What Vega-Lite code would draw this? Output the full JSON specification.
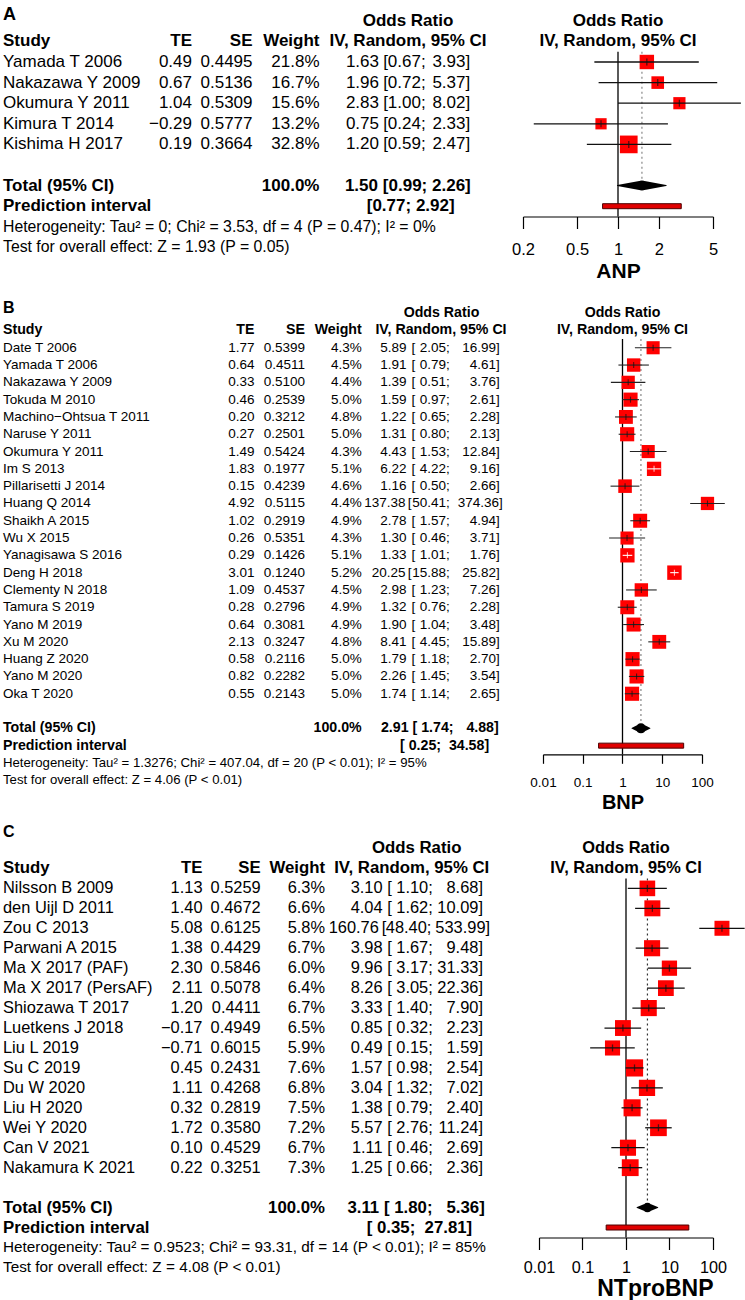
{
"$schema": "https://vega.github.io/schema/vega-lite/v6.json",
"padding": {"left": 0, "top": 5.5, "right": 0, "bottom": 0},
"background": "white",
"config": {
  "view": {"stroke": null},
  "text": {"font": "Liberation Sans", "color": "black"},
  "axis": {"grid": false, "labelFlush": false, "labelOverlap": false, "domainColor": "black", "tickColor": "black", "labelColor": "black", "titleColor": "black", "domainWidth": 1.2, "tickWidth": 1.2, "labelFont": "Liberation Sans", "titleFont": "Liberation Sans", "titleFontWeight": "bold"}
},
"datasets": {
  "A_s": [
    {"study": "Yamada T 2006", "te": 0.49, "se": 0.4495, "w": 0.218, "or": 1.63, "lo": 0.67, "hi": 3.93},
    {"study": "Nakazawa Y 2009", "te": 0.67, "se": 0.5136, "w": 0.167, "or": 1.96, "lo": 0.72, "hi": 5.37},
    {"study": "Okumura Y 2011", "te": 1.04, "se": 0.5309, "w": 0.156, "or": 2.83, "lo": 1.00, "hi": 8.02},
    {"study": "Kimura T 2014", "te": -0.29, "se": 0.5777, "w": 0.132, "or": 0.75, "lo": 0.24, "hi": 2.33},
    {"study": "Kishima H 2017", "te": 0.19, "se": 0.3664, "w": 0.328, "or": 1.20, "lo": 0.59, "hi": 2.47}
  ],
  "A_t": [{"label": "Total (95% CI)", "w": 1, "or": 1.50, "lo": 0.99, "hi": 2.26}],
  "A_p": [{"label": "Prediction interval", "lo": 0.77, "hi": 2.92}],
  "A_n": [
    {"key": "het", "text": "Heterogeneity: Tau² = 0; Chi² = 3.53, df = 4 (P = 0.47); I² = 0%"},
    {"key": "test", "text": "Test for overall effect: Z = 1.93 (P = 0.05)"}
  ],
  "B_s": [
    {"study": "Date T 2006", "te": 1.77, "se": 0.5399, "w": 0.043, "or": 5.89, "lo": 2.05, "hi": 16.99},
    {"study": "Yamada T 2006", "te": 0.64, "se": 0.4511, "w": 0.045, "or": 1.91, "lo": 0.79, "hi": 4.61},
    {"study": "Nakazawa Y 2009", "te": 0.33, "se": 0.5100, "w": 0.044, "or": 1.39, "lo": 0.51, "hi": 3.76},
    {"study": "Tokuda M 2010", "te": 0.46, "se": 0.2539, "w": 0.050, "or": 1.59, "lo": 0.97, "hi": 2.61},
    {"study": "Machino−Ohtsua T 2011", "te": 0.20, "se": 0.3212, "w": 0.048, "or": 1.22, "lo": 0.65, "hi": 2.28},
    {"study": "Naruse Y 2011", "te": 0.27, "se": 0.2501, "w": 0.050, "or": 1.31, "lo": 0.80, "hi": 2.13},
    {"study": "Okumura Y 2011", "te": 1.49, "se": 0.5424, "w": 0.043, "or": 4.43, "lo": 1.53, "hi": 12.84},
    {"study": "Im S 2013", "te": 1.83, "se": 0.1977, "w": 0.051, "or": 6.22, "lo": 4.22, "hi": 9.16},
    {"study": "Pillarisetti J 2014", "te": 0.15, "se": 0.4239, "w": 0.046, "or": 1.16, "lo": 0.50, "hi": 2.66},
    {"study": "Huang Q 2014", "te": 4.92, "se": 0.5115, "w": 0.044, "or": 137.38, "lo": 50.41, "hi": 374.36},
    {"study": "Shaikh A 2015", "te": 1.02, "se": 0.2919, "w": 0.049, "or": 2.78, "lo": 1.57, "hi": 4.94},
    {"study": "Wu X 2015", "te": 0.26, "se": 0.5351, "w": 0.043, "or": 1.30, "lo": 0.46, "hi": 3.71},
    {"study": "Yanagisawa S 2016", "te": 0.29, "se": 0.1426, "w": 0.051, "or": 1.33, "lo": 1.01, "hi": 1.76},
    {"study": "Deng H 2018", "te": 3.01, "se": 0.1240, "w": 0.052, "or": 20.25, "lo": 15.88, "hi": 25.82},
    {"study": "Clementy N 2018", "te": 1.09, "se": 0.4537, "w": 0.045, "or": 2.98, "lo": 1.23, "hi": 7.26},
    {"study": "Tamura S 2019", "te": 0.28, "se": 0.2796, "w": 0.049, "or": 1.32, "lo": 0.76, "hi": 2.28},
    {"study": "Yano M 2019", "te": 0.64, "se": 0.3081, "w": 0.049, "or": 1.90, "lo": 1.04, "hi": 3.48},
    {"study": "Xu M 2020", "te": 2.13, "se": 0.3247, "w": 0.048, "or": 8.41, "lo": 4.45, "hi": 15.89},
    {"study": "Huang Z 2020", "te": 0.58, "se": 0.2116, "w": 0.050, "or": 1.79, "lo": 1.18, "hi": 2.70},
    {"study": "Yano M 2020", "te": 0.82, "se": 0.2282, "w": 0.050, "or": 2.26, "lo": 1.45, "hi": 3.54},
    {"study": "Oka T 2020", "te": 0.55, "se": 0.2143, "w": 0.050, "or": 1.74, "lo": 1.14, "hi": 2.65}
  ],
  "B_t": [{"label": "Total (95% CI)", "w": 1, "or": 2.91, "lo": 1.74, "hi": 4.88}],
  "B_p": [{"label": "Prediction interval", "lo": 0.25, "hi": 34.58}],
  "B_n": [
    {"key": "het", "text": "Heterogeneity: Tau² = 1.3276; Chi² = 407.04, df = 20 (P < 0.01); I² = 95%"},
    {"key": "test", "text": "Test for overall effect: Z = 4.06 (P < 0.01)"}
  ],
  "C_s": [
    {"study": "Nilsson B 2009", "te": 1.13, "se": 0.5259, "w": 0.063, "or": 3.10, "lo": 1.10, "hi": 8.68},
    {"study": "den Uijl D 2011", "te": 1.40, "se": 0.4672, "w": 0.066, "or": 4.04, "lo": 1.62, "hi": 10.09},
    {"study": "Zou C 2013", "te": 5.08, "se": 0.6125, "w": 0.058, "or": 160.76, "lo": 48.40, "hi": 533.99},
    {"study": "Parwani A 2015", "te": 1.38, "se": 0.4429, "w": 0.067, "or": 3.98, "lo": 1.67, "hi": 9.48},
    {"study": "Ma X 2017 (PAF)", "te": 2.30, "se": 0.5846, "w": 0.060, "or": 9.96, "lo": 3.17, "hi": 31.33},
    {"study": "Ma X 2017 (PersAF)", "te": 2.11, "se": 0.5078, "w": 0.064, "or": 8.26, "lo": 3.05, "hi": 22.36},
    {"study": "Shiozawa T 2017", "te": 1.20, "se": 0.4411, "w": 0.067, "or": 3.33, "lo": 1.40, "hi": 7.90},
    {"study": "Luetkens J 2018", "te": -0.17, "se": 0.4949, "w": 0.065, "or": 0.85, "lo": 0.32, "hi": 2.23},
    {"study": "Liu L 2019", "te": -0.71, "se": 0.6015, "w": 0.059, "or": 0.49, "lo": 0.15, "hi": 1.59},
    {"study": "Su C 2019", "te": 0.45, "se": 0.2431, "w": 0.076, "or": 1.57, "lo": 0.98, "hi": 2.54},
    {"study": "Du W 2020", "te": 1.11, "se": 0.4268, "w": 0.068, "or": 3.04, "lo": 1.32, "hi": 7.02},
    {"study": "Liu H 2020", "te": 0.32, "se": 0.2819, "w": 0.075, "or": 1.38, "lo": 0.79, "hi": 2.40},
    {"study": "Wei Y 2020", "te": 1.72, "se": 0.3580, "w": 0.072, "or": 5.57, "lo": 2.76, "hi": 11.24},
    {"study": "Can V 2021", "te": 0.10, "se": 0.4529, "w": 0.067, "or": 1.11, "lo": 0.46, "hi": 2.69},
    {"study": "Nakamura K 2021", "te": 0.22, "se": 0.3251, "w": 0.073, "or": 1.25, "lo": 0.66, "hi": 2.36}
  ],
  "C_t": [{"label": "Total (95% CI)", "w": 1, "or": 3.11, "lo": 1.80, "hi": 5.36}],
  "C_p": [{"label": "Prediction interval", "lo": 0.35, "hi": 27.81}],
  "C_n": [
    {"key": "het", "text": "Heterogeneity: Tau² = 0.9523; Chi² = 93.31, df = 14 (P < 0.01); I² = 85%"},
    {"key": "test", "text": "Test for overall effect: Z = 4.08 (P < 0.01)"}
  ]
},
"spacing": 18,
"resolve": {"scale": {"x": "independent", "y": "independent", "size": "independent"}},
"vconcat": [
{
  "hconcat": [
  {
    "width": 515, "height": {"step": 20.6},
    "layer": [
      {"data": {"name": "A_s"}, "mark": {"type": "text", "align": "left", "fontSize": 17},
       "encoding": {"x": {"datum": 3, "type": "quantitative", "scale": {"domain": [0, 515], "nice": false, "zero": false}, "axis": null},
         "y": {"field": "study", "type": "nominal", "axis": null, "scale": {"type": "band", "paddingInner": 0, "paddingOuter": 0, "domain": ["h1","h2","Yamada T 2006","Nakazawa Y 2009","Okumura Y 2011","Kimura T 2014","Kishima H 2017","gap","Total (95% CI)","Prediction interval","het","test"]}},
         "text": {"field": "study"}}},
      {"data": {"name": "A_s"}, "mark": {"type": "text", "align": "right", "fontSize": 17},
       "encoding": {"x": {"datum": 192, "type": "quantitative", "axis": null}, "y": {"field": "study", "type": "nominal", "axis": null}, "text": {"field": "te", "format": ".2f"}}},
      {"data": {"name": "A_s"}, "mark": {"type": "text", "align": "right", "fontSize": 17},
       "encoding": {"x": {"datum": 252.5, "type": "quantitative", "axis": null}, "y": {"field": "study", "type": "nominal", "axis": null}, "text": {"field": "se", "format": ".4f"}}},
      {"data": {"name": "A_s"}, "mark": {"type": "text", "align": "right", "fontSize": 17},
       "encoding": {"x": {"datum": 319.5, "type": "quantitative", "axis": null}, "y": {"field": "study", "type": "nominal", "axis": null}, "text": {"field": "w", "format": ".1%"}}},
      {"data": {"name": "A_s"}, "mark": {"type": "text", "align": "right", "fontSize": 17},
       "encoding": {"x": {"datum": 379, "type": "quantitative", "axis": null}, "y": {"field": "study", "type": "nominal", "axis": null}, "text": {"field": "or", "format": ".2f"}}},
      {"data": {"name": "A_s"}, "mark": {"type": "text", "align": "left", "fontSize": 17},
       "encoding": {"x": {"datum": 383.3, "type": "quantitative", "axis": null}, "y": {"field": "study", "type": "nominal", "axis": null}, "text": {"value": "["}}},
      {"data": {"name": "A_s"}, "mark": {"type": "text", "align": "right", "fontSize": 17},
       "encoding": {"x": {"datum": 420.9, "type": "quantitative", "axis": null}, "y": {"field": "study", "type": "nominal", "axis": null}, "text": {"field": "lo", "format": ".2f"}}},
      {"data": {"name": "A_s"}, "mark": {"type": "text", "align": "left", "fontSize": 17},
       "encoding": {"x": {"datum": 420.9, "type": "quantitative", "axis": null}, "y": {"field": "study", "type": "nominal", "axis": null}, "text": {"value": ";"}}},
      {"data": {"name": "A_s"}, "mark": {"type": "text", "align": "right", "fontSize": 17},
       "encoding": {"x": {"datum": 465.5, "type": "quantitative", "axis": null}, "y": {"field": "study", "type": "nominal", "axis": null}, "text": {"field": "hi", "format": ".2f"}}},
      {"data": {"name": "A_s"}, "mark": {"type": "text", "align": "left", "fontSize": 17},
       "encoding": {"x": {"datum": 465.5, "type": "quantitative", "axis": null}, "y": {"field": "study", "type": "nominal", "axis": null}, "text": {"value": "]"}}},

      {"data": {"name": "A_t"}, "mark": {"type": "text", "align": "left", "fontSize": 17, "fontWeight": "bold"},
       "encoding": {"x": {"datum": 3, "type": "quantitative", "axis": null}, "y": {"field": "label", "type": "nominal", "axis": null}, "text": {"field": "label"}}},
      {"data": {"name": "A_t"}, "mark": {"type": "text", "align": "right", "fontSize": 17, "fontWeight": "bold"},
       "encoding": {"x": {"datum": 319.5, "type": "quantitative", "axis": null}, "y": {"field": "label", "type": "nominal", "axis": null}, "text": {"field": "w", "format": ".1%"}}},
      {"data": {"name": "A_t"}, "mark": {"type": "text", "align": "right", "fontSize": 17, "fontWeight": "bold"},
       "encoding": {"x": {"datum": 378, "type": "quantitative", "axis": null}, "y": {"field": "label", "type": "nominal", "axis": null}, "text": {"field": "or", "format": ".2f"}}},
      {"data": {"name": "A_t"}, "mark": {"type": "text", "align": "left", "fontSize": 17, "fontWeight": "bold"},
       "encoding": {"x": {"datum": 382.8, "type": "quantitative", "axis": null}, "y": {"field": "label", "type": "nominal", "axis": null}, "text": {"value": "["}}},
      {"data": {"name": "A_t"}, "mark": {"type": "text", "align": "right", "fontSize": 17, "fontWeight": "bold"},
       "encoding": {"x": {"datum": 421.6, "type": "quantitative", "axis": null}, "y": {"field": "label", "type": "nominal", "axis": null}, "text": {"field": "lo", "format": ".2f"}}},
      {"data": {"name": "A_t"}, "mark": {"type": "text", "align": "left", "fontSize": 17, "fontWeight": "bold"},
       "encoding": {"x": {"datum": 421.6, "type": "quantitative", "axis": null}, "y": {"field": "label", "type": "nominal", "axis": null}, "text": {"value": ";"}}},
      {"data": {"name": "A_t"}, "mark": {"type": "text", "align": "right", "fontSize": 17, "fontWeight": "bold"},
       "encoding": {"x": {"datum": 465.1, "type": "quantitative", "axis": null}, "y": {"field": "label", "type": "nominal", "axis": null}, "text": {"field": "hi", "format": ".2f"}}},
      {"data": {"name": "A_t"}, "mark": {"type": "text", "align": "left", "fontSize": 17, "fontWeight": "bold"},
       "encoding": {"x": {"datum": 465.1, "type": "quantitative", "axis": null}, "y": {"field": "label", "type": "nominal", "axis": null}, "text": {"value": "]"}}},

      {"data": {"name": "A_p"}, "mark": {"type": "text", "align": "left", "fontSize": 17, "fontWeight": "bold"},
       "encoding": {"x": {"datum": 3, "type": "quantitative", "axis": null}, "y": {"field": "label", "type": "nominal", "axis": null}, "text": {"field": "label"}}},
      {"data": {"name": "A_p"}, "mark": {"type": "text", "align": "left", "fontSize": 17, "fontWeight": "bold"},
       "encoding": {"x": {"datum": 366.7, "type": "quantitative", "axis": null}, "y": {"field": "label", "type": "nominal", "axis": null}, "text": {"value": "["}}},
      {"data": {"name": "A_p"}, "mark": {"type": "text", "align": "right", "fontSize": 17, "fontWeight": "bold"},
       "encoding": {"x": {"datum": 405.5, "type": "quantitative", "axis": null}, "y": {"field": "label", "type": "nominal", "axis": null}, "text": {"field": "lo", "format": ".2f"}}},
      {"data": {"name": "A_p"}, "mark": {"type": "text", "align": "left", "fontSize": 17, "fontWeight": "bold"},
       "encoding": {"x": {"datum": 405.5, "type": "quantitative", "axis": null}, "y": {"field": "label", "type": "nominal", "axis": null}, "text": {"value": ";"}}},
      {"data": {"name": "A_p"}, "mark": {"type": "text", "align": "right", "fontSize": 17, "fontWeight": "bold"},
       "encoding": {"x": {"datum": 449, "type": "quantitative", "axis": null}, "y": {"field": "label", "type": "nominal", "axis": null}, "text": {"field": "hi", "format": ".2f"}}},
      {"data": {"name": "A_p"}, "mark": {"type": "text", "align": "left", "fontSize": 17, "fontWeight": "bold"},
       "encoding": {"x": {"datum": 449, "type": "quantitative", "axis": null}, "y": {"field": "label", "type": "nominal", "axis": null}, "text": {"value": "]"}}},

      {"data": {"name": "A_n"}, "mark": {"type": "text", "align": "left", "fontSize": 15.8},
       "encoding": {"x": {"datum": 3, "type": "quantitative", "axis": null}, "y": {"field": "key", "type": "nominal", "axis": null}, "text": {"field": "text"}}},

      {"data": {"values": [{}]}, "mark": {"type": "text", "align": "left", "fontSize": 18, "fontWeight": "bold", "dy": -6},
       "encoding": {"x": {"datum": 3, "type": "quantitative", "axis": null}, "y": {"datum": "h1", "type": "nominal", "axis": null}, "text": {"value": "A"}}},
      {"data": {"values": [{}]}, "mark": {"type": "text", "align": "center", "fontSize": 17, "fontWeight": "bold"},
       "encoding": {"x": {"datum": 408, "type": "quantitative", "axis": null}, "y": {"datum": "h1", "type": "nominal", "axis": null}, "text": {"value": "Odds Ratio"}}},
      {"data": {"values": [{}]}, "mark": {"type": "text", "align": "left", "fontSize": 17, "fontWeight": "bold"},
       "encoding": {"x": {"datum": 3, "type": "quantitative", "axis": null}, "y": {"datum": "h2", "type": "nominal", "axis": null}, "text": {"value": "Study"}}},
      {"data": {"values": [{}]}, "mark": {"type": "text", "align": "right", "fontSize": 17, "fontWeight": "bold"},
       "encoding": {"x": {"datum": 192, "type": "quantitative", "axis": null}, "y": {"datum": "h2", "type": "nominal", "axis": null}, "text": {"value": "TE"}}},
      {"data": {"values": [{}]}, "mark": {"type": "text", "align": "right", "fontSize": 17, "fontWeight": "bold"},
       "encoding": {"x": {"datum": 252.5, "type": "quantitative", "axis": null}, "y": {"datum": "h2", "type": "nominal", "axis": null}, "text": {"value": "SE"}}},
      {"data": {"values": [{}]}, "mark": {"type": "text", "align": "right", "fontSize": 17, "fontWeight": "bold"},
       "encoding": {"x": {"datum": 319.5, "type": "quantitative", "axis": null}, "y": {"datum": "h2", "type": "nominal", "axis": null}, "text": {"value": "Weight"}}},
      {"data": {"values": [{}]}, "mark": {"type": "text", "align": "center", "fontSize": 17, "fontWeight": "bold"},
       "encoding": {"x": {"datum": 408, "type": "quantitative", "axis": null}, "y": {"datum": "h2", "type": "nominal", "axis": null}, "text": {"value": "IV, Random, 95% CI"}}}
    ]
  },
  {
    "width": 190, "height": {"step": 20.6},
    "layer": [
      {"data": {"values": [{}]}, "mark": {"type": "rule", "color": "black", "strokeWidth": 1.3},
       "encoding": {"x": {"datum": 1, "type": "quantitative", "scale": {"type": "log", "domain": [0.2, 5], "nice": false},
           "axis": {"values": [0.2, 0.5, 1, 2, 5], "format": "~g", "title": "ANP", "tickSize": 12, "labelPadding": 12.5, "labelFontSize": 16.5, "titleFontSize": 21, "titlePadding": 3}},
         "y": {"datum": "Yamada T 2006", "type": "nominal", "bandPosition": 0, "axis": null, "scale": {"type": "band", "paddingInner": 0, "paddingOuter": 0, "domain": ["h1","h2","Yamada T 2006","Nakazawa Y 2009","Okumura Y 2011","Kimura T 2014","Kishima H 2017","gap","Total (95% CI)","Prediction interval"]}},
         "y2": {"value": "height"}}},
      {"data": {"name": "A_t"}, "mark": {"type": "rule", "color": "#888888", "strokeWidth": 1.2, "strokeDash": [2, 3]},
       "encoding": {"x": {"field": "or", "type": "quantitative"}, "y": {"datum": "Yamada T 2006", "type": "nominal", "bandPosition": 0, "axis": null}, "y2": {"datum": "Total (95% CI)"}}},
      {"data": {"name": "A_s"}, "mark": {"type": "point", "shape": "square", "filled": true, "color": "#FF0000", "opacity": 1, "strokeWidth": 0},
       "encoding": {"x": {"field": "or", "type": "quantitative"}, "y": {"field": "study", "type": "nominal", "axis": null},
         "size": {"field": "w", "type": "quantitative", "scale": {"domain": [0, 0.328], "range": [0, 313]}, "legend": null}}},
      {"data": {"name": "A_s"}, "mark": {"type": "rule", "color": "#111111", "strokeWidth": 1.3},
       "encoding": {"x": {"field": "lo", "type": "quantitative"}, "x2": {"field": "hi"}, "y": {"field": "study", "type": "nominal", "axis": null}}},
      {"data": {"name": "A_s"}, "mark": {"type": "tick", "color": "#111111", "thickness": 1.3, "size": 7},
       "encoding": {"x": {"field": "or", "type": "quantitative"}, "y": {"field": "study", "type": "nominal", "axis": null}}},
      {"data": {"name": "A_t"}, "transform": [{"fold": ["lo", "or", "hi"], "as": ["k", "v"]}],
       "mark": {"type": "trail", "color": "black"},
       "encoding": {"x": {"field": "v", "type": "quantitative"}, "y": {"datum": "Total (95% CI)", "type": "nominal", "axis": null},
         "size": {"condition": {"test": "datum.k === 'or'", "value": 10}, "value": 0}}},
      {"data": {"name": "A_p"}, "mark": {"type": "bar", "height": 5, "fill": "#E00000", "stroke": "#4d0000", "strokeWidth": 1},
       "encoding": {"x": {"field": "lo", "type": "quantitative"}, "x2": {"field": "hi"}, "y": {"field": "label", "type": "nominal", "axis": null}}},
      {"data": {"values": [{}]}, "mark": {"type": "text", "align": "center", "fontSize": 17, "fontWeight": "bold"},
       "encoding": {"x": {"datum": 1, "type": "quantitative"}, "y": {"datum": "h1", "type": "nominal", "axis": null}, "text": {"value": "Odds Ratio"}}},
      {"data": {"values": [{}]}, "mark": {"type": "text", "align": "center", "fontSize": 17, "fontWeight": "bold"},
       "encoding": {"x": {"datum": 1, "type": "quantitative"}, "y": {"datum": "h2", "type": "nominal", "axis": null}, "text": {"value": "IV, Random, 95% CI"}}}
    ]
  }
  ],
  "bounds": "flush", "spacing": 8,
  "resolve": {"scale": {"x": "independent", "y": "independent", "size": "independent"}}
},
{
"spacing": 10,
"resolve": {"scale": {"x": "independent", "y": "independent", "size": "independent"}},
"vconcat": [
{
  "hconcat": [
  {
    "width": 515, "height": {"step": 17.3},
    "layer": [
      {"data": {"name": "B_s"}, "mark": {"type": "text", "align": "left", "fontSize": 13.5},
       "encoding": {"x": {"datum": 3, "type": "quantitative", "scale": {"domain": [0, 515], "nice": false, "zero": false}, "axis": null},
         "y": {"field": "study", "type": "nominal", "axis": null, "scale": {"type": "band", "paddingInner": 0, "paddingOuter": 0, "domain": ["h1","h2","Date T 2006","Yamada T 2006","Nakazawa Y 2009","Tokuda M 2010","Machino−Ohtsua T 2011","Naruse Y 2011","Okumura Y 2011","Im S 2013","Pillarisetti J 2014","Huang Q 2014","Shaikh A 2015","Wu X 2015","Yanagisawa S 2016","Deng H 2018","Clementy N 2018","Tamura S 2019","Yano M 2019","Xu M 2020","Huang Z 2020","Yano M 2020","Oka T 2020","gap","Total (95% CI)","Prediction interval","het","test"]}},
         "text": {"field": "study"}}},
      {"data": {"name": "B_s"}, "mark": {"type": "text", "align": "right", "fontSize": 13.5},
       "encoding": {"x": {"datum": 254.5, "type": "quantitative", "axis": null}, "y": {"field": "study", "type": "nominal", "axis": null}, "text": {"field": "te", "format": ".2f"}}},
      {"data": {"name": "B_s"}, "mark": {"type": "text", "align": "right", "fontSize": 13.5},
       "encoding": {"x": {"datum": 305, "type": "quantitative", "axis": null}, "y": {"field": "study", "type": "nominal", "axis": null}, "text": {"field": "se", "format": ".4f"}}},
      {"data": {"name": "B_s"}, "mark": {"type": "text", "align": "right", "fontSize": 13.5},
       "encoding": {"x": {"datum": 361.7, "type": "quantitative", "axis": null}, "y": {"field": "study", "type": "nominal", "axis": null}, "text": {"field": "w", "format": ".1%"}}},
      {"data": {"name": "B_s"}, "transform": [{"filter": "datum.lo < 10"}], "mark": {"type": "text", "align": "right", "fontSize": 13.5},
       "encoding": {"x": {"datum": 406.5, "type": "quantitative", "axis": null}, "y": {"field": "study", "type": "nominal", "axis": null}, "text": {"field": "or", "format": ".2f"}}},
      {"data": {"name": "B_s"}, "transform": [{"filter": "datum.lo >= 10"}], "mark": {"type": "text", "align": "right", "fontSize": 13.5},
       "encoding": {"x": {"datum": 405.5, "type": "quantitative", "axis": null}, "y": {"field": "study", "type": "nominal", "axis": null}, "text": {"field": "or", "format": ".2f"}}},
      {"data": {"name": "B_s"}, "transform": [{"filter": "datum.lo < 10"}], "mark": {"type": "text", "align": "left", "fontSize": 13.5},
       "encoding": {"x": {"datum": 411.5, "type": "quantitative", "axis": null}, "y": {"field": "study", "type": "nominal", "axis": null}, "text": {"value": "["}}},
      {"data": {"name": "B_s"}, "transform": [{"filter": "datum.lo >= 10"}], "mark": {"type": "text", "align": "left", "fontSize": 13.5},
       "encoding": {"x": {"datum": 407.8, "type": "quantitative", "axis": null}, "y": {"field": "study", "type": "nominal", "axis": null}, "text": {"value": "["}}},
      {"data": {"name": "B_s"}, "mark": {"type": "text", "align": "right", "fontSize": 13.5},
       "encoding": {"x": {"datum": 446, "type": "quantitative", "axis": null}, "y": {"field": "study", "type": "nominal", "axis": null}, "text": {"field": "lo", "format": ".2f"}}},
      {"data": {"name": "B_s"}, "mark": {"type": "text", "align": "left", "fontSize": 13.5},
       "encoding": {"x": {"datum": 446, "type": "quantitative", "axis": null}, "y": {"field": "study", "type": "nominal", "axis": null}, "text": {"value": ";"}}},
      {"data": {"name": "B_s"}, "transform": [{"filter": "datum.hi < 100"}], "mark": {"type": "text", "align": "right", "fontSize": 13.5},
       "encoding": {"x": {"datum": 496, "type": "quantitative", "axis": null}, "y": {"field": "study", "type": "nominal", "axis": null}, "text": {"field": "hi", "format": ".2f"}}},
      {"data": {"name": "B_s"}, "transform": [{"filter": "datum.hi < 100"}], "mark": {"type": "text", "align": "left", "fontSize": 13.5},
       "encoding": {"x": {"datum": 496, "type": "quantitative", "axis": null}, "y": {"field": "study", "type": "nominal", "axis": null}, "text": {"value": "]"}}},
      {"data": {"name": "B_s"}, "transform": [{"filter": "datum.hi >= 100"}], "mark": {"type": "text", "align": "right", "fontSize": 13.5},
       "encoding": {"x": {"datum": 499, "type": "quantitative", "axis": null}, "y": {"field": "study", "type": "nominal", "axis": null}, "text": {"field": "hi", "format": ".2f"}}},
      {"data": {"name": "B_s"}, "transform": [{"filter": "datum.hi >= 100"}], "mark": {"type": "text", "align": "left", "fontSize": 13.5},
       "encoding": {"x": {"datum": 499, "type": "quantitative", "axis": null}, "y": {"field": "study", "type": "nominal", "axis": null}, "text": {"value": "]"}}},

      {"data": {"name": "B_t"}, "mark": {"type": "text", "align": "left", "fontSize": 14.2, "fontWeight": "bold"},
       "encoding": {"x": {"datum": 3, "type": "quantitative", "axis": null}, "y": {"field": "label", "type": "nominal", "axis": null}, "text": {"field": "label"}}},
      {"data": {"name": "B_t"}, "mark": {"type": "text", "align": "right", "fontSize": 14.2, "fontWeight": "bold"},
       "encoding": {"x": {"datum": 361.7, "type": "quantitative", "axis": null}, "y": {"field": "label", "type": "nominal", "axis": null}, "text": {"field": "w", "format": ".1%"}}},
      {"data": {"name": "B_t"}, "mark": {"type": "text", "align": "right", "fontSize": 14.2, "fontWeight": "bold"},
       "encoding": {"x": {"datum": 408.6, "type": "quantitative", "axis": null}, "y": {"field": "label", "type": "nominal", "axis": null}, "text": {"field": "or", "format": ".2f"}}},
      {"data": {"name": "B_t"}, "mark": {"type": "text", "align": "left", "fontSize": 14.2, "fontWeight": "bold"},
       "encoding": {"x": {"datum": 412.6, "type": "quantitative", "axis": null}, "y": {"field": "label", "type": "nominal", "axis": null}, "text": {"value": "["}}},
      {"data": {"name": "B_t"}, "mark": {"type": "text", "align": "right", "fontSize": 14.2, "fontWeight": "bold"},
       "encoding": {"x": {"datum": 448.8, "type": "quantitative", "axis": null}, "y": {"field": "label", "type": "nominal", "axis": null}, "text": {"field": "lo", "format": ".2f"}}},
      {"data": {"name": "B_t"}, "mark": {"type": "text", "align": "left", "fontSize": 14.2, "fontWeight": "bold"},
       "encoding": {"x": {"datum": 448.8, "type": "quantitative", "axis": null}, "y": {"field": "label", "type": "nominal", "axis": null}, "text": {"value": ";"}}},
      {"data": {"name": "B_t"}, "mark": {"type": "text", "align": "right", "fontSize": 14.2, "fontWeight": "bold"},
       "encoding": {"x": {"datum": 494, "type": "quantitative", "axis": null}, "y": {"field": "label", "type": "nominal", "axis": null}, "text": {"field": "hi", "format": ".2f"}}},
      {"data": {"name": "B_t"}, "mark": {"type": "text", "align": "left", "fontSize": 14.2, "fontWeight": "bold"},
       "encoding": {"x": {"datum": 494, "type": "quantitative", "axis": null}, "y": {"field": "label", "type": "nominal", "axis": null}, "text": {"value": "]"}}},

      {"data": {"name": "B_p"}, "mark": {"type": "text", "align": "left", "fontSize": 14.2, "fontWeight": "bold"},
       "encoding": {"x": {"datum": 3, "type": "quantitative", "axis": null}, "y": {"field": "label", "type": "nominal", "axis": null}, "text": {"field": "label"}}},
      {"data": {"name": "B_p"}, "mark": {"type": "text", "align": "left", "fontSize": 14.2, "fontWeight": "bold"},
       "encoding": {"x": {"datum": 400, "type": "quantitative", "axis": null}, "y": {"field": "label", "type": "nominal", "axis": null}, "text": {"value": "["}}},
      {"data": {"name": "B_p"}, "mark": {"type": "text", "align": "right", "fontSize": 14.2, "fontWeight": "bold"},
       "encoding": {"x": {"datum": 436.3, "type": "quantitative", "axis": null}, "y": {"field": "label", "type": "nominal", "axis": null}, "text": {"field": "lo", "format": ".2f"}}},
      {"data": {"name": "B_p"}, "mark": {"type": "text", "align": "left", "fontSize": 14.2, "fontWeight": "bold"},
       "encoding": {"x": {"datum": 436.3, "type": "quantitative", "axis": null}, "y": {"field": "label", "type": "nominal", "axis": null}, "text": {"value": ";"}}},
      {"data": {"name": "B_p"}, "mark": {"type": "text", "align": "right", "fontSize": 14.2, "fontWeight": "bold"},
       "encoding": {"x": {"datum": 484.4, "type": "quantitative", "axis": null}, "y": {"field": "label", "type": "nominal", "axis": null}, "text": {"field": "hi", "format": ".2f"}}},
      {"data": {"name": "B_p"}, "mark": {"type": "text", "align": "left", "fontSize": 14.2, "fontWeight": "bold"},
       "encoding": {"x": {"datum": 484.4, "type": "quantitative", "axis": null}, "y": {"field": "label", "type": "nominal", "axis": null}, "text": {"value": "]"}}},

      {"data": {"name": "B_n"}, "mark": {"type": "text", "align": "left", "fontSize": 13.2},
       "encoding": {"x": {"datum": 3, "type": "quantitative", "axis": null}, "y": {"field": "key", "type": "nominal", "axis": null}, "text": {"field": "text"}}},

      {"data": {"values": [{}]}, "mark": {"type": "text", "align": "left", "fontSize": 16, "fontWeight": "bold", "dy": -5.5},
       "encoding": {"x": {"datum": 3, "type": "quantitative", "axis": null}, "y": {"datum": "h1", "type": "nominal", "axis": null}, "text": {"value": "B"}}},
      {"data": {"values": [{}]}, "mark": {"type": "text", "align": "center", "fontSize": 14.2, "fontWeight": "bold"},
       "encoding": {"x": {"datum": 441.5, "type": "quantitative", "axis": null}, "y": {"datum": "h1", "type": "nominal", "axis": null}, "text": {"value": "Odds Ratio"}}},
      {"data": {"values": [{}]}, "mark": {"type": "text", "align": "left", "fontSize": 14.2, "fontWeight": "bold"},
       "encoding": {"x": {"datum": 3, "type": "quantitative", "axis": null}, "y": {"datum": "h2", "type": "nominal", "axis": null}, "text": {"value": "Study"}}},
      {"data": {"values": [{}]}, "mark": {"type": "text", "align": "right", "fontSize": 14.2, "fontWeight": "bold"},
       "encoding": {"x": {"datum": 254.5, "type": "quantitative", "axis": null}, "y": {"datum": "h2", "type": "nominal", "axis": null}, "text": {"value": "TE"}}},
      {"data": {"values": [{}]}, "mark": {"type": "text", "align": "right", "fontSize": 14.2, "fontWeight": "bold"},
       "encoding": {"x": {"datum": 305, "type": "quantitative", "axis": null}, "y": {"datum": "h2", "type": "nominal", "axis": null}, "text": {"value": "SE"}}},
      {"data": {"values": [{}]}, "mark": {"type": "text", "align": "right", "fontSize": 14.2, "fontWeight": "bold"},
       "encoding": {"x": {"datum": 361.7, "type": "quantitative", "axis": null}, "y": {"datum": "h2", "type": "nominal", "axis": null}, "text": {"value": "Weight"}}},
      {"data": {"values": [{}]}, "mark": {"type": "text", "align": "center", "fontSize": 14.2, "fontWeight": "bold"},
       "encoding": {"x": {"datum": 441, "type": "quantitative", "axis": null}, "y": {"datum": "h2", "type": "nominal", "axis": null}, "text": {"value": "IV, Random, 95% CI"}}}
    ]
  },
  {
    "width": 159, "height": {"step": 17.3},
    "layer": [
      {"data": {"values": [{}]}, "mark": {"type": "rule", "color": "black", "strokeWidth": 1.3},
       "encoding": {"x": {"datum": 1, "type": "quantitative", "scale": {"type": "log", "domain": [0.01, 100], "nice": false},
           "axis": {"values": [0.01, 0.1, 1, 10, 100], "format": "~g", "title": "BNP", "tickSize": 9, "labelPadding": 12.5, "labelFontSize": 13.5, "titleFontSize": 20, "titlePadding": 3.5}},
         "y": {"datum": "Date T 2006", "type": "nominal", "bandPosition": 0, "axis": null, "scale": {"type": "band", "paddingInner": 0, "paddingOuter": 0, "domain": ["h1","h2","Date T 2006","Yamada T 2006","Nakazawa Y 2009","Tokuda M 2010","Machino−Ohtsua T 2011","Naruse Y 2011","Okumura Y 2011","Im S 2013","Pillarisetti J 2014","Huang Q 2014","Shaikh A 2015","Wu X 2015","Yanagisawa S 2016","Deng H 2018","Clementy N 2018","Tamura S 2019","Yano M 2019","Xu M 2020","Huang Z 2020","Yano M 2020","Oka T 2020","gap","Total (95% CI)","Prediction interval"]}},
         "y2": {"value": "height"}}},
      {"data": {"name": "B_t"}, "mark": {"type": "rule", "color": "#888888", "strokeWidth": 1.2, "strokeDash": [2, 3]},
       "encoding": {"x": {"field": "or", "type": "quantitative"}, "y": {"datum": "Date T 2006", "type": "nominal", "bandPosition": 0, "axis": null}, "y2": {"datum": "Total (95% CI)"}}},
      {"data": {"name": "B_s"}, "mark": {"type": "point", "shape": "square", "filled": true, "color": "#FF0000", "opacity": 1, "strokeWidth": 0},
       "encoding": {"x": {"field": "or", "type": "quantitative"}, "y": {"field": "study", "type": "nominal", "axis": null},
         "size": {"field": "w", "type": "quantitative", "scale": {"domain": [0, 0.052], "range": [0, 208]}, "legend": null}}},
      {"data": {"name": "B_s"}, "mark": {"type": "rule", "strokeWidth": 1.1},
       "encoding": {"x": {"field": "lo", "type": "quantitative"}, "x2": {"field": "hi"}, "y": {"field": "study", "type": "nominal", "axis": null},
         "color": {"condition": {"test": "datum.hi / datum.lo < 2.2", "value": "white"}, "value": "#222222"}}},
      {"data": {"name": "B_s"}, "mark": {"type": "tick", "thickness": 1.1, "size": 6},
       "encoding": {"x": {"field": "or", "type": "quantitative"}, "y": {"field": "study", "type": "nominal", "axis": null},
         "color": {"condition": {"test": "datum.hi / datum.lo < 2.2", "value": "white"}, "value": "#111111"}}},
      {"data": {"name": "B_t"}, "transform": [{"fold": ["lo", "or", "hi"], "as": ["k", "v"]}],
       "mark": {"type": "trail", "color": "black"},
       "encoding": {"x": {"field": "v", "type": "quantitative"}, "y": {"datum": "Total (95% CI)", "type": "nominal", "axis": null},
         "size": {"condition": {"test": "datum.k === 'or'", "value": 10}, "value": 0}}},
      {"data": {"name": "B_p"}, "mark": {"type": "bar", "height": 5, "fill": "#E00000", "stroke": "#4d0000", "strokeWidth": 1},
       "encoding": {"x": {"field": "lo", "type": "quantitative"}, "x2": {"field": "hi"}, "y": {"field": "label", "type": "nominal", "axis": null}}},
      {"data": {"values": [{}]}, "mark": {"type": "text", "align": "center", "fontSize": 14.2, "fontWeight": "bold"},
       "encoding": {"x": {"datum": 1, "type": "quantitative"}, "y": {"datum": "h1", "type": "nominal", "axis": null}, "text": {"value": "Odds Ratio"}}},
      {"data": {"values": [{}]}, "mark": {"type": "text", "align": "center", "fontSize": 14.2, "fontWeight": "bold"},
       "encoding": {"x": {"datum": 1, "type": "quantitative"}, "y": {"datum": "h2", "type": "nominal", "axis": null}, "text": {"value": "IV, Random, 95% CI"}}}
    ]
  }
  ],
  "bounds": "flush", "spacing": 28,
  "resolve": {"scale": {"x": "independent", "y": "independent", "size": "independent"}}
},
{
  "hconcat": [
  {
    "width": 515, "height": {"step": 19.95},
    "layer": [
      {"data": {"name": "C_s"}, "mark": {"type": "text", "align": "left", "fontSize": 16.4},
       "encoding": {"x": {"datum": 3, "type": "quantitative", "scale": {"domain": [0, 515], "nice": false, "zero": false}, "axis": null},
         "y": {"field": "study", "type": "nominal", "axis": null, "scale": {"type": "band", "paddingInner": 0, "paddingOuter": 0, "domain": ["h1","h2","Nilsson B 2009","den Uijl D 2011","Zou C 2013","Parwani A 2015","Ma X 2017 (PAF)","Ma X 2017 (PersAF)","Shiozawa T 2017","Luetkens J 2018","Liu L 2019","Su C 2019","Du W 2020","Liu H 2020","Wei Y 2020","Can V 2021","Nakamura K 2021","gap","Total (95% CI)","Prediction interval","het","test"]}},
         "text": {"field": "study"}}},
      {"data": {"name": "C_s"}, "mark": {"type": "text", "align": "right", "fontSize": 16.4},
       "encoding": {"x": {"datum": 202.5, "type": "quantitative", "axis": null}, "y": {"field": "study", "type": "nominal", "axis": null}, "text": {"field": "te", "format": ".2f"}}},
      {"data": {"name": "C_s"}, "mark": {"type": "text", "align": "right", "fontSize": 16.4},
       "encoding": {"x": {"datum": 260.7, "type": "quantitative", "axis": null}, "y": {"field": "study", "type": "nominal", "axis": null}, "text": {"field": "se", "format": ".4f"}}},
      {"data": {"name": "C_s"}, "mark": {"type": "text", "align": "right", "fontSize": 16.4},
       "encoding": {"x": {"datum": 325, "type": "quantitative", "axis": null}, "y": {"field": "study", "type": "nominal", "axis": null}, "text": {"field": "w", "format": ".1%"}}},
      {"data": {"name": "C_s"}, "transform": [{"filter": "datum.hi < 100"}], "mark": {"type": "text", "align": "right", "fontSize": 16.4},
       "encoding": {"x": {"datum": 382.6, "type": "quantitative", "axis": null}, "y": {"field": "study", "type": "nominal", "axis": null}, "text": {"field": "or", "format": ".2f"}}},
      {"data": {"name": "C_s"}, "transform": [{"filter": "datum.hi < 100"}], "mark": {"type": "text", "align": "left", "fontSize": 16.4},
       "encoding": {"x": {"datum": 387.2, "type": "quantitative", "axis": null}, "y": {"field": "study", "type": "nominal", "axis": null}, "text": {"value": "["}}},
      {"data": {"name": "C_s"}, "transform": [{"filter": "datum.hi < 100"}], "mark": {"type": "text", "align": "right", "fontSize": 16.4},
       "encoding": {"x": {"datum": 428.2, "type": "quantitative", "axis": null}, "y": {"field": "study", "type": "nominal", "axis": null}, "text": {"field": "lo", "format": ".2f"}}},
      {"data": {"name": "C_s"}, "transform": [{"filter": "datum.hi < 100"}], "mark": {"type": "text", "align": "left", "fontSize": 16.4},
       "encoding": {"x": {"datum": 428.2, "type": "quantitative", "axis": null}, "y": {"field": "study", "type": "nominal", "axis": null}, "text": {"value": ";"}}},
      {"data": {"name": "C_s"}, "transform": [{"filter": "datum.hi < 100"}], "mark": {"type": "text", "align": "right", "fontSize": 16.4},
       "encoding": {"x": {"datum": 478.4, "type": "quantitative", "axis": null}, "y": {"field": "study", "type": "nominal", "axis": null}, "text": {"field": "hi", "format": ".2f"}}},
      {"data": {"name": "C_s"}, "transform": [{"filter": "datum.hi < 100"}], "mark": {"type": "text", "align": "left", "fontSize": 16.4},
       "encoding": {"x": {"datum": 478.4, "type": "quantitative", "axis": null}, "y": {"field": "study", "type": "nominal", "axis": null}, "text": {"value": "]"}}},
      {"data": {"name": "C_s"}, "transform": [{"filter": "datum.hi >= 100"}], "mark": {"type": "text", "align": "right", "fontSize": 16.4},
       "encoding": {"x": {"datum": 378.8, "type": "quantitative", "axis": null}, "y": {"field": "study", "type": "nominal", "axis": null}, "text": {"field": "or", "format": ".2f"}}},
      {"data": {"name": "C_s"}, "transform": [{"filter": "datum.hi >= 100"}], "mark": {"type": "text", "align": "left", "fontSize": 16.4},
       "encoding": {"x": {"datum": 381.8, "type": "quantitative", "axis": null}, "y": {"field": "study", "type": "nominal", "axis": null}, "text": {"value": "["}}},
      {"data": {"name": "C_s"}, "transform": [{"filter": "datum.hi >= 100"}], "mark": {"type": "text", "align": "right", "fontSize": 16.4},
       "encoding": {"x": {"datum": 426.8, "type": "quantitative", "axis": null}, "y": {"field": "study", "type": "nominal", "axis": null}, "text": {"field": "lo", "format": ".2f"}}},
      {"data": {"name": "C_s"}, "transform": [{"filter": "datum.hi >= 100"}], "mark": {"type": "text", "align": "left", "fontSize": 16.4},
       "encoding": {"x": {"datum": 426.8, "type": "quantitative", "axis": null}, "y": {"field": "study", "type": "nominal", "axis": null}, "text": {"value": ";"}}},
      {"data": {"name": "C_s"}, "transform": [{"filter": "datum.hi >= 100"}], "mark": {"type": "text", "align": "right", "fontSize": 16.4},
       "encoding": {"x": {"datum": 485.5, "type": "quantitative", "axis": null}, "y": {"field": "study", "type": "nominal", "axis": null}, "text": {"field": "hi", "format": ".2f"}}},
      {"data": {"name": "C_s"}, "transform": [{"filter": "datum.hi >= 100"}], "mark": {"type": "text", "align": "left", "fontSize": 16.4},
       "encoding": {"x": {"datum": 485.5, "type": "quantitative", "axis": null}, "y": {"field": "study", "type": "nominal", "axis": null}, "text": {"value": "]"}}},

      {"data": {"name": "C_t"}, "mark": {"type": "text", "align": "left", "fontSize": 16.8, "fontWeight": "bold"},
       "encoding": {"x": {"datum": 3, "type": "quantitative", "axis": null}, "y": {"field": "label", "type": "nominal", "axis": null}, "text": {"field": "label"}}},
      {"data": {"name": "C_t"}, "mark": {"type": "text", "align": "right", "fontSize": 16.8, "fontWeight": "bold"},
       "encoding": {"x": {"datum": 325, "type": "quantitative", "axis": null}, "y": {"field": "label", "type": "nominal", "axis": null}, "text": {"field": "w", "format": ".1%"}}},
      {"data": {"name": "C_t"}, "mark": {"type": "text", "align": "right", "fontSize": 16.8, "fontWeight": "bold"},
       "encoding": {"x": {"datum": 379.2, "type": "quantitative", "axis": null}, "y": {"field": "label", "type": "nominal", "axis": null}, "text": {"field": "or", "format": ".2f"}}},
      {"data": {"name": "C_t"}, "mark": {"type": "text", "align": "left", "fontSize": 16.8, "fontWeight": "bold"},
       "encoding": {"x": {"datum": 383.9, "type": "quantitative", "axis": null}, "y": {"field": "label", "type": "nominal", "axis": null}, "text": {"value": "["}}},
      {"data": {"name": "C_t"}, "mark": {"type": "text", "align": "right", "fontSize": 16.8, "fontWeight": "bold"},
       "encoding": {"x": {"datum": 426.9, "type": "quantitative", "axis": null}, "y": {"field": "label", "type": "nominal", "axis": null}, "text": {"field": "lo", "format": ".2f"}}},
      {"data": {"name": "C_t"}, "mark": {"type": "text", "align": "left", "fontSize": 16.8, "fontWeight": "bold"},
       "encoding": {"x": {"datum": 426.9, "type": "quantitative", "axis": null}, "y": {"field": "label", "type": "nominal", "axis": null}, "text": {"value": ";"}}},
      {"data": {"name": "C_t"}, "mark": {"type": "text", "align": "right", "fontSize": 16.8, "fontWeight": "bold"},
       "encoding": {"x": {"datum": 479.2, "type": "quantitative", "axis": null}, "y": {"field": "label", "type": "nominal", "axis": null}, "text": {"field": "hi", "format": ".2f"}}},
      {"data": {"name": "C_t"}, "mark": {"type": "text", "align": "left", "fontSize": 16.8, "fontWeight": "bold"},
       "encoding": {"x": {"datum": 479.2, "type": "quantitative", "axis": null}, "y": {"field": "label", "type": "nominal", "axis": null}, "text": {"value": "]"}}},

      {"data": {"name": "C_p"}, "mark": {"type": "text", "align": "left", "fontSize": 16.8, "fontWeight": "bold"},
       "encoding": {"x": {"datum": 3, "type": "quantitative", "axis": null}, "y": {"field": "label", "type": "nominal", "axis": null}, "text": {"field": "label"}}},
      {"data": {"name": "C_p"}, "mark": {"type": "text", "align": "left", "fontSize": 16.8, "fontWeight": "bold"},
       "encoding": {"x": {"datum": 366.7, "type": "quantitative", "axis": null}, "y": {"field": "label", "type": "nominal", "axis": null}, "text": {"value": "["}}},
      {"data": {"name": "C_p"}, "mark": {"type": "text", "align": "right", "fontSize": 16.8, "fontWeight": "bold"},
       "encoding": {"x": {"datum": 409.7, "type": "quantitative", "axis": null}, "y": {"field": "label", "type": "nominal", "axis": null}, "text": {"field": "lo", "format": ".2f"}}},
      {"data": {"name": "C_p"}, "mark": {"type": "text", "align": "left", "fontSize": 16.8, "fontWeight": "bold"},
       "encoding": {"x": {"datum": 409.7, "type": "quantitative", "axis": null}, "y": {"field": "label", "type": "nominal", "axis": null}, "text": {"value": ";"}}},
      {"data": {"name": "C_p"}, "mark": {"type": "text", "align": "right", "fontSize": 16.8, "fontWeight": "bold"},
       "encoding": {"x": {"datum": 466.6, "type": "quantitative", "axis": null}, "y": {"field": "label", "type": "nominal", "axis": null}, "text": {"field": "hi", "format": ".2f"}}},
      {"data": {"name": "C_p"}, "mark": {"type": "text", "align": "left", "fontSize": 16.8, "fontWeight": "bold"},
       "encoding": {"x": {"datum": 466.6, "type": "quantitative", "axis": null}, "y": {"field": "label", "type": "nominal", "axis": null}, "text": {"value": "]"}}},

      {"data": {"name": "C_n"}, "mark": {"type": "text", "align": "left", "fontSize": 15.3},
       "encoding": {"x": {"datum": 3, "type": "quantitative", "axis": null}, "y": {"field": "key", "type": "nominal", "axis": null}, "text": {"field": "text"}}},

      {"data": {"values": [{}]}, "mark": {"type": "text", "align": "left", "fontSize": 16, "fontWeight": "bold", "dy": -16.5},
       "encoding": {"x": {"datum": 3, "type": "quantitative", "axis": null}, "y": {"datum": "h1", "type": "nominal", "axis": null}, "text": {"value": "C"}}},
      {"data": {"values": [{}]}, "mark": {"type": "text", "align": "center", "fontSize": 16.8, "fontWeight": "bold"},
       "encoding": {"x": {"datum": 416.7, "type": "quantitative", "axis": null}, "y": {"datum": "h1", "type": "nominal", "axis": null}, "text": {"value": "Odds Ratio"}}},
      {"data": {"values": [{}]}, "mark": {"type": "text", "align": "left", "fontSize": 16.8, "fontWeight": "bold"},
       "encoding": {"x": {"datum": 3, "type": "quantitative", "axis": null}, "y": {"datum": "h2", "type": "nominal", "axis": null}, "text": {"value": "Study"}}},
      {"data": {"values": [{}]}, "mark": {"type": "text", "align": "right", "fontSize": 16.8, "fontWeight": "bold"},
       "encoding": {"x": {"datum": 202.5, "type": "quantitative", "axis": null}, "y": {"datum": "h2", "type": "nominal", "axis": null}, "text": {"value": "TE"}}},
      {"data": {"values": [{}]}, "mark": {"type": "text", "align": "right", "fontSize": 16.8, "fontWeight": "bold"},
       "encoding": {"x": {"datum": 260.7, "type": "quantitative", "axis": null}, "y": {"datum": "h2", "type": "nominal", "axis": null}, "text": {"value": "SE"}}},
      {"data": {"values": [{}]}, "mark": {"type": "text", "align": "right", "fontSize": 16.8, "fontWeight": "bold"},
       "encoding": {"x": {"datum": 325, "type": "quantitative", "axis": null}, "y": {"datum": "h2", "type": "nominal", "axis": null}, "text": {"value": "Weight"}}},
      {"data": {"values": [{}]}, "mark": {"type": "text", "align": "center", "fontSize": 16.8, "fontWeight": "bold"},
       "encoding": {"x": {"datum": 411.7, "type": "quantitative", "axis": null}, "y": {"datum": "h2", "type": "nominal", "axis": null}, "text": {"value": "IV, Random, 95% CI"}}}
    ]
  },
  {
    "width": 174, "height": {"step": 19.95},
    "layer": [
      {"data": {"values": [{}]}, "mark": {"type": "rule", "color": "black", "strokeWidth": 1.3},
       "encoding": {"x": {"datum": 1, "type": "quantitative", "scale": {"type": "log", "domain": [0.01, 100], "nice": false},
           "axis": {"values": [0.01, 0.1, 1, 10, 100], "format": "~g", "title": "NTproBNP", "tickSize": 12, "labelPadding": 9.5, "labelFontSize": 16.2, "titleFontSize": 23, "titlePadding": 2, "titleAnchor": "end"}},
         "y": {"datum": "Nilsson B 2009", "type": "nominal", "bandPosition": 0, "axis": null, "scale": {"type": "band", "paddingInner": 0, "paddingOuter": 0, "domain": ["h1","h2","Nilsson B 2009","den Uijl D 2011","Zou C 2013","Parwani A 2015","Ma X 2017 (PAF)","Ma X 2017 (PersAF)","Shiozawa T 2017","Luetkens J 2018","Liu L 2019","Su C 2019","Du W 2020","Liu H 2020","Wei Y 2020","Can V 2021","Nakamura K 2021","gap","Total (95% CI)","Prediction interval"]}},
         "y2": {"value": "height"}}},
      {"data": {"name": "C_t"}, "mark": {"type": "rule", "color": "#333333", "strokeWidth": 1.2, "strokeDash": [2, 3]},
       "encoding": {"x": {"field": "or", "type": "quantitative"}, "y": {"datum": "Nilsson B 2009", "type": "nominal", "bandPosition": 0, "axis": null}, "y2": {"datum": "Total (95% CI)"}}},
      {"data": {"name": "C_s"}, "mark": {"type": "point", "shape": "square", "filled": true, "color": "#FF0000", "opacity": 1, "strokeWidth": 0},
       "encoding": {"x": {"field": "or", "type": "quantitative"}, "y": {"field": "study", "type": "nominal", "axis": null},
         "size": {"field": "w", "type": "quantitative", "scale": {"domain": [0, 0.076], "range": [0, 295]}, "legend": null}}},
      {"data": {"name": "C_s"}, "mark": {"type": "rule", "color": "#111111", "strokeWidth": 1.3},
       "encoding": {"x": {"field": "lo", "type": "quantitative"}, "x2": {"field": "hi"}, "y": {"field": "study", "type": "nominal", "axis": null}}},
      {"data": {"name": "C_s"}, "mark": {"type": "tick", "color": "#111111", "thickness": 1.3, "size": 7},
       "encoding": {"x": {"field": "or", "type": "quantitative"}, "y": {"field": "study", "type": "nominal", "axis": null}}},
      {"data": {"name": "C_t"}, "transform": [{"fold": ["lo", "or", "hi"], "as": ["k", "v"]}],
       "mark": {"type": "trail", "color": "black"},
       "encoding": {"x": {"field": "v", "type": "quantitative"}, "y": {"datum": "Total (95% CI)", "type": "nominal", "axis": null},
         "size": {"condition": {"test": "datum.k === 'or'", "value": 9.5}, "value": 0}}},
      {"data": {"name": "C_p"}, "mark": {"type": "bar", "height": 5, "fill": "#E00000", "stroke": "#4d0000", "strokeWidth": 1},
       "encoding": {"x": {"field": "lo", "type": "quantitative"}, "x2": {"field": "hi"}, "y": {"field": "label", "type": "nominal", "axis": null}}},
      {"data": {"values": [{}]}, "mark": {"type": "text", "align": "center", "fontSize": 16.4, "fontWeight": "bold"},
       "encoding": {"x": {"datum": 1, "type": "quantitative"}, "y": {"datum": "h1", "type": "nominal", "axis": null}, "text": {"value": "Odds Ratio"}}},
      {"data": {"values": [{}]}, "mark": {"type": "text", "align": "center", "fontSize": 16.4, "fontWeight": "bold"},
       "encoding": {"x": {"datum": 1, "type": "quantitative"}, "y": {"datum": "h2", "type": "nominal", "axis": null}, "text": {"value": "IV, Random, 95% CI"}}}
    ]
  }
  ],
  "bounds": "flush", "spacing": 24,
  "resolve": {"scale": {"x": "independent", "y": "independent", "size": "independent"}}
}
]
}
]
}
